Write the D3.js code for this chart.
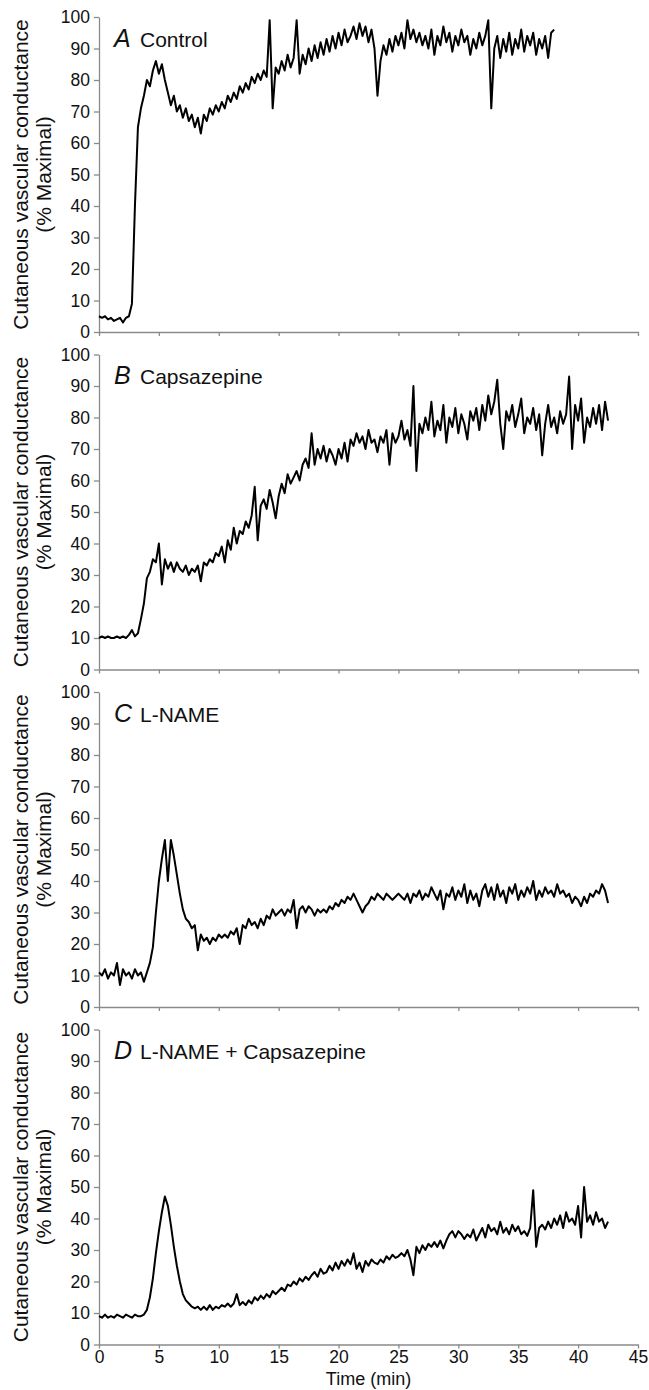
<!DOCTYPE html>
<html>
<head>
<meta charset="utf-8">
<script src="https://cdn.jsdelivr.net/npm/d3@7"></script>
<style>
  body { margin: 0; background: #fff; }
  svg text { font-family: "Liberation Sans", Arial, sans-serif; fill: #111; }
</style>
</head>
<body>
<div id="container"></div>
<script>
// Samples are read every 0.25 min off the traces
const sampleStep = 0.25;

const panelLetters = ["A", "B", "C", "D"];
const panelNames = ["Control", "Capsazepine", "L-NAME", "L-NAME + Capsazepine"];

const xTicks = [0, 5, 10, 15, 20, 25, 30, 35, 40, 45];
const yTicks = [0, 10, 20, 30, 40, 50, 60, 70, 80, 90, 100];

// % maximal CVC, panel A (0 - 38 min)
const controlValues = [
  5, 4.5, 5, 4, 4.5, 3.5, 4, 4.5, 3, 4.5,
  5, 9, 40, 65, 71, 75, 80, 78, 83, 86,
  82, 85, 80, 76, 72, 75, 70, 72, 68, 71,
  67, 69, 65, 68, 63, 69, 67, 71, 69, 72,
  70, 73, 71, 75, 73, 76, 74, 78, 76, 79,
  77, 81, 79, 82, 80, 83, 81, 99, 71, 84,
  82, 86, 83, 88, 84, 87, 99, 82, 88, 85,
  90, 86, 91, 87, 92, 88, 93, 89, 94, 90,
  95, 91, 96, 92, 94, 97, 93, 98, 94, 97,
  92, 96, 90, 75, 86, 91, 88, 93, 89, 94,
  91, 95, 90, 99, 93, 96, 92, 95, 91, 94,
  90, 96, 88, 94, 91, 97, 92, 95, 89, 94,
  91, 96, 92, 94, 88, 93, 90, 95, 91, 94,
  99, 71, 90, 94, 87, 93, 89, 95, 88, 93,
  90, 96, 89, 94, 91, 95, 88, 93, 90, 94,
  87, 95, 96
];

// panel B (0 - 42.5 min)
const capsazepineValues = [
  10, 10.5, 10, 10.5, 10, 10, 10.5, 10, 10.5, 10,
  11, 12.5, 10.5, 11.5, 16, 21, 29, 31, 35, 34,
  40, 27, 35, 32, 34, 31, 34, 32, 31, 33,
  30, 32, 31, 33, 28, 34, 33, 35, 34, 37,
  36, 39, 34, 41, 38, 45, 40, 44, 43, 47,
  45, 49, 58, 41, 52, 54, 51, 57, 53, 48,
  55, 59, 56, 62, 59, 61, 63, 60, 65, 67,
  64, 75, 65, 70, 67, 71, 66, 70, 68, 65,
  70, 67, 72, 66, 73, 71, 75, 72, 74, 70,
  76, 72, 73, 69, 74, 72, 76, 65, 75, 72,
  74, 79, 73, 76, 71, 90, 63, 78, 75, 80,
  76, 85, 74, 79, 76, 84, 72, 80, 77, 83,
  75, 81, 78, 73, 82, 79, 83, 76, 84, 79,
  87, 81, 85, 92, 78, 70, 82, 79, 84, 77,
  81, 86, 75, 80, 78, 83, 76, 81, 68, 78,
  84, 77, 80, 75, 82, 78, 81, 93, 70, 84,
  79, 86, 72, 80, 77, 83, 78, 84, 76, 85,
  79
];

// panel C
const lnameValues = [
  11, 10, 12, 9, 11, 10, 14, 7, 12, 10,
  11, 9, 12, 10, 11, 8, 11, 14, 19, 30,
  40, 47, 53, 40, 53, 48, 42, 36, 31, 28,
  27, 25, 26, 18, 23, 21, 22, 20, 22, 21,
  23, 22, 23, 22, 24, 23, 25, 20, 26, 25,
  28, 26, 27, 25, 28, 26, 29, 28, 31, 29,
  30, 31, 29, 31, 30, 34, 25, 31, 32, 30,
  32, 31, 29, 31, 30, 31, 30, 32, 31, 33,
  32, 34, 33, 35, 34, 36, 34, 32, 30, 32,
  33, 35, 34, 36, 35, 34, 36, 35, 34, 35,
  36, 35, 34, 36, 33, 36, 35, 37, 34, 36,
  35, 38, 36, 34, 37, 31, 36, 35, 38, 34,
  37, 35, 39, 33, 37, 34, 36, 32, 37, 39,
  35, 38, 34, 39, 35, 37, 33, 38, 36, 39,
  34, 37, 35, 38, 36, 40, 34, 37, 35, 38,
  36, 37, 35, 39, 36, 37, 35, 36, 33, 35,
  34, 32, 35, 33, 36, 35, 37, 36, 39, 37,
  33
];

// panel D
const lnameCapsValues = [
  9, 8.5, 9.5, 8.5, 9, 8.5, 9.5, 9, 8.5, 9.5,
  9, 8.5, 9.5, 9, 9, 9.5, 11, 15, 21, 29,
  36, 42, 47, 44, 38, 31, 25, 20, 16, 14,
  13, 12, 11.5, 12, 11, 12, 11, 12.5, 11, 12,
  11.5, 12.5, 12, 13, 12, 13, 16, 12.5, 13.5, 12.5,
  14, 13, 15, 14, 15.5, 14.5, 16, 15, 17, 16,
  17, 18, 17, 19, 18.5, 20, 19, 21, 20, 21.5,
  20.5, 22, 23, 21.5, 24, 22.5, 23, 25, 23.5, 26,
  24, 26.5, 25, 27, 25.5, 29, 24, 26, 23, 26.5,
  25, 27, 26, 25.5, 27, 26, 28, 27, 28.5, 27.5,
  28, 29, 28, 30, 27, 22, 31, 29, 31.5, 30,
  32, 31, 32.5, 31, 33, 30.5, 33, 35, 36, 34,
  36, 35, 33.5, 35, 34, 36.5, 33, 35, 37, 34,
  38, 36, 37, 35, 39, 35.5, 37, 35, 38, 36,
  37.5, 35, 36, 34.5, 37, 49, 31, 37, 38, 36.5,
  39, 37, 40, 38, 41, 37, 42, 39, 40, 38,
  44, 34, 50, 39, 41, 38, 42, 39, 40, 37,
  39
];

const panelValues = [controlValues, capsazepineValues, lnameValues, lnameCapsValues];

// Layout
const width = 649;
const height = 1390;
const xLeft = 99;
const xRight = 638;
const panelBottoms = [332, 669.5, 1007, 1344.5];
const panelHeight = 315;
const axisColor = "#8a8a8a";

const svg = d3.select("#container")
    .append("svg")
    .attr("width", width)
    .attr("height", height);

const xScale = d3.scaleLinear().domain([0, 45]).range([xLeft, xRight]);

panelValues.forEach(function (values, k) {
    const bottom = panelBottoms[k];
    const yScale = d3.scaleLinear().domain([0, 100]).range([bottom, bottom - panelHeight]);
    const g = svg.append("g").attr("class", "panel");

    // y-axis
    const yAxis = g.append("g")
        .attr("transform", `translate(${xLeft},0)`)
        .call(d3.axisLeft(yScale).tickValues(yTicks).tickSize(5).tickSizeOuter(0).tickPadding(4));

    // x-axis, labels only on the last panel
    const xAxis = g.append("g")
        .attr("transform", `translate(0,${bottom})`)
        .call(d3.axisBottom(xScale).tickValues(xTicks).tickSize(4).tickSizeOuter(0).tickPadding(2)
            .tickFormat(k === 3 ? d3.format("d") : () => ""));

    [yAxis, xAxis].forEach(function (ax) {
        ax.select(".domain").attr("stroke", axisColor).attr("stroke-width", 1.3);
        ax.selectAll(".tick line").attr("stroke", axisColor).attr("stroke-width", 1.3);
        ax.selectAll(".tick text").attr("font-size", 17.5).attr("fill", "#111")
            .style("font-family", "'Liberation Sans', Arial, sans-serif");
    });

    // trace
    const line = d3.line()
        .x((d, i) => xScale(i * sampleStep))
        .y(d => yScale(d));

    g.append("path")
        .datum(values)
        .attr("fill", "none")
        .attr("stroke", "#000")
        .attr("stroke-width", 2)
        .attr("stroke-linejoin", "round")
        .attr("d", line);

    // panel label
    const labelY = yScale(90) - 2;
    g.append("text")
        .attr("x", 114)
        .attr("y", labelY)
        .attr("font-size", 25)
        .attr("font-style", "italic")
        .text(panelLetters[k]);
    g.append("text")
        .attr("x", 140)
        .attr("y", labelY)
        .attr("font-size", 21)
        .text(panelNames[k]);

    // y-axis title
    const midY = bottom - panelHeight / 2;
    g.append("text")
        .attr("transform", `translate(28,${midY}) rotate(-90)`)
        .attr("text-anchor", "middle")
        .attr("font-size", 21)
        .text("Cutaneous vascular conductance");
    g.append("text")
        .attr("transform", `translate(51,${midY}) rotate(-90)`)
        .attr("text-anchor", "middle")
        .attr("font-size", 21)
        .text("(% Maximal)");
});

// x-axis title
svg.append("text")
    .attr("x", (xLeft + xRight) / 2)
    .attr("y", 1385)
    .attr("text-anchor", "middle")
    .attr("font-size", 18)
    .text("Time (min)");
</script>
</body>
</html>
